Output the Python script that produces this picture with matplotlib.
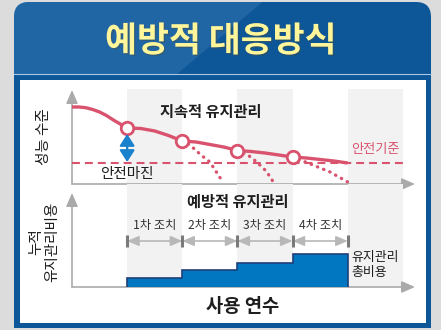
import matplotlib
matplotlib.use("Agg")
import matplotlib.pyplot as plt
import matplotlib.patheffects as pe
from matplotlib.patches import FancyBboxPatch, Rectangle, Polygon

plt.rcParams["font.family"] = ["Noto Sans CJK KR", "DejaVu Sans"]

# performance level over service years (continuous maintenance)
curve_x = [0, 0.125, 0.25, 0.375, 0.5, 0.625, 0.75, 0.875, 1.0,
           1.25, 1.5, 1.75, 2.0, 2.25, 2.5, 2.75, 3.0,
           3.25, 3.5, 3.75, 4.0, 4.25, 4.5, 4.75, 5.0]
curve_y = [77, 77, 76.3, 74.5, 72, 68.5, 64, 60, 56,
           55.5, 53, 48.5, 43, 42, 39.5, 37, 33.5,
           32.5, 31, 29, 27, 26, 24.5, 23, 21]

# maintenance actions
action_x = [1, 2, 3, 4]
action_y = [56, 43, 33.5, 27]
action_labels = ["1차 조치", "2차 조치", "3차 조치", "4차 조치"]

# decline without maintenance (dotted)
drop_x = [[2, 2.14, 2.34, 2.50, 2.70],
          [3, 3.19, 3.35, 3.52, 3.64],
          [4, 4.28, 4.68, 5.0]]
drop_y = [[43, 39, 29, 22, 5],
          [33.5, 29, 22, 13, 3],
          [27, 21, 12, 2]]

safety_level = 21

# cumulative maintenance cost
cost_edges = [1, 2, 3, 4, 5]
cost_values = [9, 17, 24, 33]

band_starts = [1, 3, 5]

RED = "#d9536e"
BLUE = "#0d5697"
DARK = "#1e1e1e"
GRAY = "#aaaaaa"

fig = plt.figure(figsize=(4.41, 3.30), dpi=100)
fig.patch.set_facecolor("#dcdcdc")

# background / frame in pixel coordinates
bg = fig.add_axes([0, 0, 1, 1])
bg.set_xlim(0, 441)
bg.set_ylim(330, 0)
bg.axis("off")
panel = FancyBboxPatch((14, 2), 417, 345, boxstyle="round,pad=0,rounding_size=15",
                       fc=BLUE, ec="none")
bg.add_patch(panel)
shine = Polygon([(14, 0), (265, 0), (177, 74), (14, 74)], closed=True,
                fc="#3b7bb5", ec="none", alpha=0.45)
bg.add_patch(shine)
shine.set_clip_path(panel)
bg.plot([14, 431], [74, 74], color="#a8c8e6", lw=0.8)
bg.add_patch(Rectangle((20, 80), 406, 243, fc="white", ec="none"))
bg.add_patch(Rectangle((0, 328), 441, 5, fc="#dcdcdc", ec="none"))
bg.text(221, 41, "예방적 대응방식", ha="center", va="center", fontsize=25,
        fontweight="bold", color="#fff59a",
        path_effects=[pe.withSimplePatchShadow(offset=(1, -1), alpha=0.35)])
bg.text(44, 137, "성능 수준", ha="center", va="center", rotation=90,
        fontsize=10.5, color=DARK)
bg.text(44, 242, "누적\n유지관리비용", ha="center", va="center", rotation=90,
        fontsize=10.5, color=DARK, multialignment="center", linespacing=1.2)
bg.text(243, 307, "사용 연수", ha="center", va="center", fontsize=13.5,
        fontweight="bold", color=DARK)

arrow_kw = dict(arrowstyle="-|>,head_length=0.8,head_width=0.35", color=GRAY,
                lw=1.2, shrinkA=0, shrinkB=0)

# upper panel: performance, lower panel: cost
ax1 = fig.add_axes([72 / 441, 1 - 184 / 330, 343 / 441, 95 / 330])
ax2 = fig.add_axes([72 / 441, 1 - 287 / 330, 343 / 441, 103 / 330])
for ax, ylim in ((ax1, 95), (ax2, 103)):
    ax.set_xlim(0, 6.22)
    ax.set_ylim(0, ylim)
    ax.patch.set_alpha(0)
    ax.axis("off")
    for s in band_starts:
        ax.axvspan(s, s + 1, color="#f2f2f2", lw=0, zorder=0)
    ax.annotate("", xy=(6.22, 0), xytext=(0, 0), arrowprops=arrow_kw,
                annotation_clip=False, zorder=2)
    ax.annotate("", xy=(0, 94), xytext=(0, 0), arrowprops=arrow_kw,
                annotation_clip=False, zorder=2)

ax1.plot([0, 6], [safety_level, safety_level], color=RED, lw=1.5,
         dashes=(3.8, 2.4), zorder=3)
for dx, dy in zip(drop_x, drop_y):
    ax1.plot(dx, dy, color=RED, lw=2.4, linestyle=(0, (0.1, 1.9)),
             dash_capstyle="round", zorder=3)
ax1.plot(curve_x, curve_y, color=RED, lw=2.4, solid_capstyle="butt", zorder=4)
ax1.plot(action_x, action_y, "o", ms=9, mfc="white", mec=RED, mew=2, zorder=5)
ax1.annotate("", xy=(1, action_y[0] - 6), xytext=(1, safety_level + 1),
             arrowprops=dict(arrowstyle="<|-|>,head_length=0.7,head_width=0.45",
                             color="#1a82cc", lw=1.6, shrinkA=0, shrinkB=0),
             zorder=5)
ax1.text(2.52, 72, "지속적 유지관리", ha="center", va="center", fontsize=11,
         fontweight="bold", color=DARK)
ax1.text(1.0, 10, "안전마진", ha="center", va="center", fontsize=10.5, color=DARK)
ax1.text(5.51, 34, "안전기준", ha="center", va="center", fontsize=9.5, color=RED)

ax2.stairs(cost_values, cost_edges, fill=True, facecolor="#0077c0",
           edgecolor="#1f3f7a", lw=1.2, zorder=3)
ax2.text(3.0, 85, "예방적 유지관리", ha="center", va="center", fontsize=11,
         fontweight="bold", color=DARK)
for i, lab in enumerate(action_labels):
    x0 = cost_edges[i]
    ax2.text(x0 + 0.5, 62, lab, ha="center", va="center", fontsize=8.8,
             color="#333333")
    ax2.annotate("", xy=(x0 + 1, 46), xytext=(x0, 46),
                 arrowprops=dict(arrowstyle="<|-|>,head_length=0.7,head_width=0.3",
                                 color="#b8b8b8", lw=1.2, shrinkA=0, shrinkB=0))
ax2.vlines(cost_edges, 40, 52, color="#7a7a7a", lw=2.2, zorder=4)
ax2.text(5.07, 22, "유지관리\n총비용", ha="left", va="center", fontsize=9.3,
         color=DARK, linespacing=1.2)

fig.savefig("out.png", dpi=100, facecolor=fig.get_facecolor())
